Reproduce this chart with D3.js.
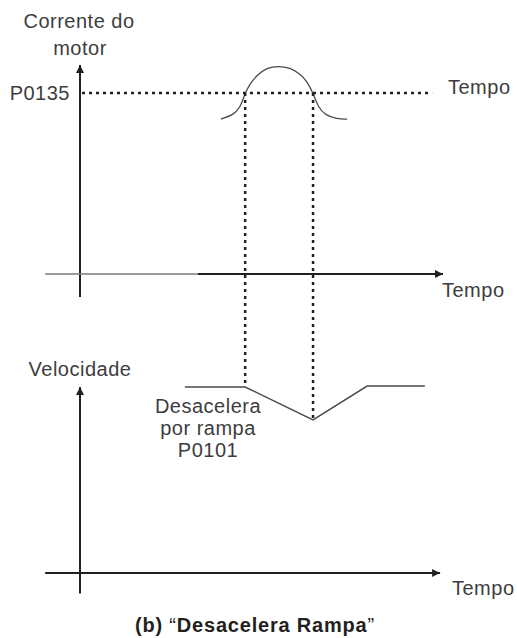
<!DOCTYPE html>
<html>
<head>
<meta charset="utf-8">
<script src="https://cdn.jsdelivr.net/npm/d3@7"></script>
<style>
  html, body { margin: 0; padding: 0; background: #ffffff; }
  svg { display: block; }
  text { font-family: "Liberation Sans", Arial, sans-serif; }
</style>
</head>
<body>
<svg id="chart" width="517" height="638"></svg>
<script>
// ---- data (time in arbitrary units, current/speed normalised) ----
const timeDomain = [0, 10];
const currentTime  = [3.88, 4.21, 4.41, 4.55, 4.68, 4.88, 5.15, 5.45, 5.79, 6.06, 6.25, 6.42, 6.56, 6.75, 7.08, 7.36];
const currentValue = [0.856, 0.878, 0.917, 1.0, 1.050, 1.099, 1.140, 1.149, 1.140, 1.105, 1.066, 1.0, 0.923, 0.878, 0.856, 0.856];
const p0135Level = 1.0;
const crossTimes = [4.55, 6.42];           // instants where current crosses P0135
const speedTime  = [2.89, 4.55, 6.42, 7.91, 9.50];
const speedValue = [1.0, 1.0, 0.823, 1.005, 1.005];
const currentAxisExtent = [-0.127, 1.155];
const speedAxisExtent = [-0.11, 1.0];
const timeAxisGray  = [-0.96, 3.58];
const timeAxisBlack = [3.25, 10];
const speedTimeAxis = [-0.96, 9.92];
const labels = {
  currentTitle: ["Corrente do", "motor"],
  level: "P0135",
  time: "Tempo",
  speedTitle: "Velocidade",
  ramp: ["Desacelera", "por rampa", "P0101"],
  caption: ["(b) ", "\u201C", "Desacelera Rampa", "\u201D"]
};

// ---- scales ----
const x = d3.scaleLinear().domain(timeDomain).range([80, 443]);
const yI = d3.scaleLinear().domain([0, 1]).range([274, 93]);
const yV = d3.scaleLinear().domain([0, 1]).range([573, 387]);

const svg = d3.select("#chart");
const ink = "#231f20";
const textCol = "#3d3d3d";
const fs = 20, ls = 0.5;

const defs = svg.append("defs");
defs.append("marker").attr("id", "arr").attr("viewBox", "0 0 10 10")
  .attr("refX", 10).attr("refY", 5).attr("markerWidth", 4.2).attr("markerHeight", 4)
  .attr("markerUnits", "strokeWidth").attr("orient", "auto")
  .append("path").attr("d", "M0,0 L10,5 L0,10 Z").attr("fill", ink);

function label(g, tx, ty, s, anchor) {
  return g.append("text").attr("x", tx).attr("y", ty).attr("text-anchor", anchor || "start")
    .attr("fill", textCol).attr("font-size", fs).attr("letter-spacing", ls).text(s);
}

// ===== top panel: motor current =====
const gTop = svg.append("g");
gTop.append("line")
  .attr("x1", x(0)).attr("x2", x(0))
  .attr("y1", yI(currentAxisExtent[0])).attr("y2", yI(currentAxisExtent[1]))
  .attr("stroke", ink).attr("stroke-width", 2).attr("marker-end", "url(#arr)");
gTop.append("line")
  .attr("x1", x(timeAxisGray[0])).attr("x2", x(timeAxisGray[1]))
  .attr("y1", yI(0)).attr("y2", yI(0))
  .attr("stroke", "#7a7a7a").attr("stroke-width", 1.5);
gTop.append("line")
  .attr("x1", x(timeAxisBlack[0])).attr("x2", x(timeAxisBlack[1]))
  .attr("y1", yI(0)).attr("y2", yI(0))
  .attr("stroke", ink).attr("stroke-width", 2).attr("marker-end", "url(#arr)");
gTop.append("line")
  .attr("x1", x(0) + 2).attr("x2", x(9.7))
  .attr("y1", yI(p0135Level)).attr("y2", yI(p0135Level))
  .attr("stroke", ink).attr("stroke-width", 2.5).attr("stroke-dasharray", "3,4");
const curPts = currentTime.map((t, i) => [t, currentValue[i]]);
gTop.append("path")
  .datum(curPts)
  .attr("d", d3.line().x(d => x(d[0])).y(d => yI(d[1])).curve(d3.curveBasis))
  .attr("fill", "none").attr("stroke", "#4a4a4a").attr("stroke-width", 1.3);

crossTimes.forEach((t, i) => {
  svg.append("line")
    .attr("x1", x(t)).attr("x2", x(t))
    .attr("y1", yI(p0135Level)).attr("y2", yV(speedValue[i + 1]))
    .attr("stroke", ink).attr("stroke-width", 2.5).attr("stroke-dasharray", "3,4");
});

const tl = gTop.append("text").attr("fill", textCol).attr("font-size", fs)
  .attr("letter-spacing", ls).attr("text-anchor", "middle");
tl.append("tspan").attr("x", 79).attr("y", 28).text(labels.currentTitle[0]);
tl.append("tspan").attr("x", 80).attr("y", 55).text(labels.currentTitle[1]);
label(gTop, 70, 100, labels.level, "end");
label(gTop, 448, 94, labels.time);
label(gTop, 442, 297, labels.time);

// ===== bottom panel: speed =====
const gBot = svg.append("g");
gBot.append("line")
  .attr("x1", x(0)).attr("x2", x(0))
  .attr("y1", yV(speedAxisExtent[0])).attr("y2", yV(speedAxisExtent[1]))
  .attr("stroke", ink).attr("stroke-width", 2).attr("marker-end", "url(#arr)");
gBot.append("line")
  .attr("x1", x(speedTimeAxis[0])).attr("x2", x(speedTimeAxis[1]))
  .attr("y1", yV(0)).attr("y2", yV(0))
  .attr("stroke", ink).attr("stroke-width", 2).attr("marker-end", "url(#arr)");
const spPts = speedTime.map((t, i) => [t, speedValue[i]]);
gBot.append("path")
  .datum(spPts)
  .attr("d", d3.line().x(d => x(d[0])).y(d => yV(d[1])))
  .attr("fill", "none").attr("stroke", "#4a4a4a").attr("stroke-width", 1.4);

label(gBot, 80, 376, labels.speedTitle, "middle");
const rl = gBot.append("text").attr("fill", textCol).attr("font-size", fs)
  .attr("letter-spacing", ls).attr("text-anchor", "middle");
labels.ramp.forEach((s, i) => rl.append("tspan").attr("x", 208).attr("y", 413 + i * 22).text(s));
label(gBot, 452, 595, labels.time);

const cap = svg.append("text").attr("x", 255).attr("y", 632).attr("text-anchor", "middle")
  .attr("fill", ink).attr("font-size", 20).attr("letter-spacing", 0.8);
cap.append("tspan").attr("font-weight", "bold").text(labels.caption[0]);
cap.append("tspan").attr("font-weight", "normal").text(labels.caption[1]);
cap.append("tspan").attr("font-weight", "bold").text(labels.caption[2]);
cap.append("tspan").attr("font-weight", "normal").text(labels.caption[3]);
</script>
</body>
</html>
